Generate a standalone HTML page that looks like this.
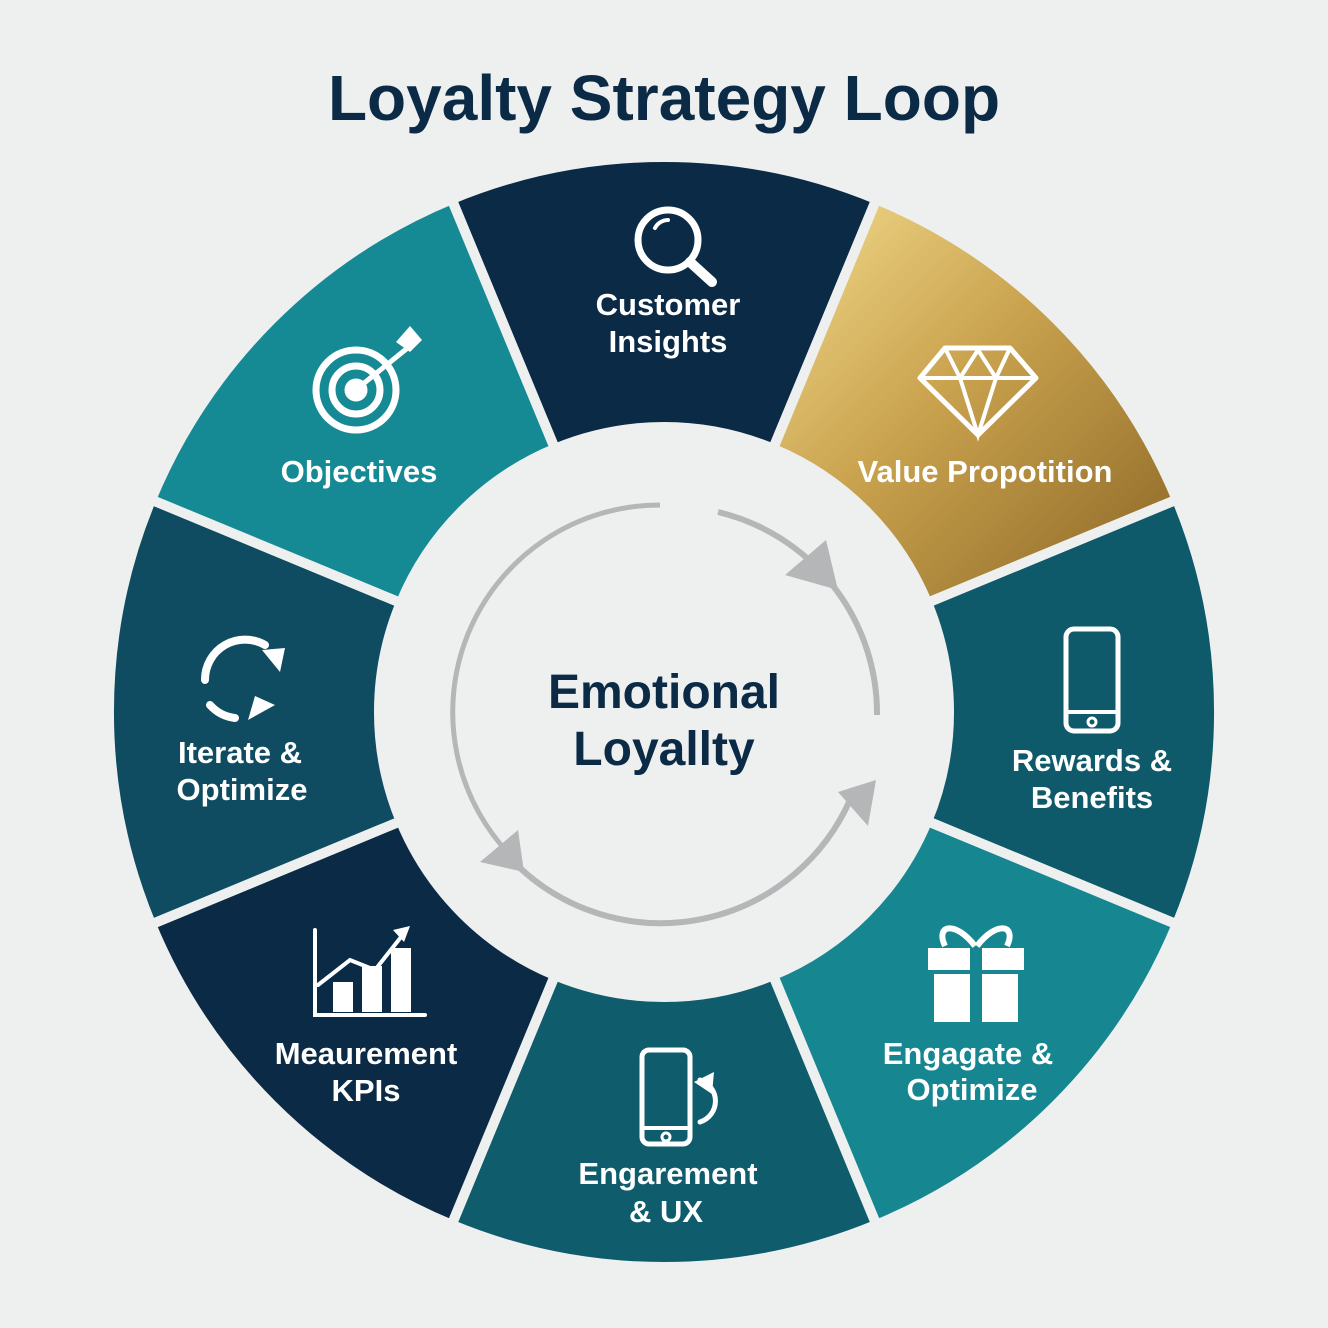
<!DOCTYPE html>
<html><head><meta charset="utf-8"><style>
html,body{margin:0;padding:0;background:#eef0f0;}
svg{display:block}
text{font-family:"Liberation Sans","DejaVu Sans",sans-serif;font-weight:bold}
</style></head><body>
<svg width="1328" height="1328" viewBox="0 0 1328 1328" xmlns="http://www.w3.org/2000/svg">
<defs>
<linearGradient id="gold" x1="0" y1="0" x2="1" y2="1">
<stop offset="0" stop-color="#f3dc8e"/><stop offset="0.45" stop-color="#c9a24e"/><stop offset="1" stop-color="#8a6524"/>
</linearGradient>
</defs>
<rect width="1328" height="1328" fill="#eef0f0"/>
<text x="664" y="120" font-size="64" fill="#0b2a45" text-anchor="middle">Loyalty Strategy Loop</text>
<g stroke="#eef0f0" stroke-width="10" stroke-linejoin="round">
<path d="M451.6,199.2 A555,555 0 0 1 876.4,199.2 L773.1,448.7 A285,285 0 0 0 554.9,448.7 Z" fill="#0b2a45"/>
<path d="M876.4,199.2 A555,555 0 0 1 1176.8,499.6 L927.3,602.9 A285,285 0 0 0 773.1,448.7 Z" fill="url(#gold)"/>
<path d="M1176.8,499.6 A555,555 0 0 1 1176.8,924.4 L927.3,821.1 A285,285 0 0 0 927.3,602.9 Z" fill="#0e5a6a"/>
<path d="M1176.8,924.4 A555,555 0 0 1 876.4,1224.8 L773.1,975.3 A285,285 0 0 0 927.3,821.1 Z" fill="#168690"/>
<path d="M876.4,1224.8 A555,555 0 0 1 451.6,1224.8 L554.9,975.3 A285,285 0 0 0 773.1,975.3 Z" fill="#0f5c6c"/>
<path d="M451.6,1224.8 A555,555 0 0 1 151.2,924.4 L400.7,821.1 A285,285 0 0 0 554.9,975.3 Z" fill="#0b2a45"/>
<path d="M151.2,924.4 A555,555 0 0 1 151.2,499.6 L400.7,602.9 A285,285 0 0 0 400.7,821.1 Z" fill="#0f4c62"/>
<path d="M151.2,499.6 A555,555 0 0 1 451.6,199.2 L554.9,448.7 A285,285 0 0 0 400.7,602.9 Z" fill="#168a94"/>
</g>
<g fill="none" stroke="#b4b6b8" stroke-width="5">
<path d="M660,505 A207,207 0 0 0 515,860"/>
<path d="M520,868 A207,207 0 0 0 850,800" stroke-width="6"/>
<path d="M718,512 A207,207 0 0 1 877,715" stroke-width="6"/>
</g>
<g fill="#b4b6b8">
<polygon points="480,862 524,872 518,830"/>
<polygon points="876,780 838,792 868,826"/>
<polygon points="826,540 785,575 838,590"/>
</g>
<text x="664" y="708" font-size="48" fill="#0b2a45" text-anchor="middle">Emotional</text>
<text x="664" y="765" font-size="48" fill="#0b2a45" text-anchor="middle">Loyallty</text>
<g fill="#fff" font-size="31" text-anchor="middle">
<text x="668" y="315">Customer</text><text x="668" y="352">Insights</text>
<text x="985" y="482">Value Propotition</text>
<text x="1092" y="771">Rewards &amp;</text><text x="1092" y="808">Benefits</text>
<text x="968" y="1064">Engagate &amp;</text><text x="972" y="1100">Optimize</text>
<text x="668" y="1184">Engarement</text><text x="666" y="1222">&amp; UX</text>
<text x="366" y="1064">Meaurement</text><text x="366" y="1101">KPIs</text>
<text x="240" y="763">Iterate &amp;</text><text x="242" y="800">Optimize</text>
<text x="359" y="482">Objectives</text>
</g>
<g fill="none" stroke="#fff" stroke-width="7" stroke-linecap="round">
<circle cx="668" cy="240" r="30"/><line x1="690" y1="262" x2="712" y2="282" stroke-width="10"/>
<path d="M655,228 A15,15 0 0 1 668,220" stroke-width="4"/>
<circle cx="356" cy="390" r="40"/><circle cx="356" cy="390" r="24"/><circle cx="356" cy="390" r="8" fill="#fff"/>
<line x1="358" y1="388" x2="410" y2="346" stroke-width="5"/>
<path d="M920,378 L945,348 L1010,348 L1036,378 L978,435 Z" stroke-width="5" stroke-linejoin="round"/>
<path d="M920,378 L1036,378 M945,348 L960,378 L978,435 L996,378 L1010,348 M960,378 L978,350 L996,378" stroke-width="4"/>
<rect x="1066" y="629" width="52" height="102" rx="8" stroke-width="5"/><line x1="1066" y1="712" x2="1118" y2="712" stroke-width="4"/><circle cx="1092" cy="722" r="4" stroke-width="3"/>
<rect x="642" y="1050" width="48" height="94" rx="7" stroke-width="5"/><line x1="642" y1="1128" x2="690" y2="1128" stroke-width="4"/><circle cx="666" cy="1137" r="4" stroke-width="3"/>
<path d="M700,1080 A22,22 0 0 1 700,1122" stroke-width="5"/>
<path d="M265,645 A40,40 0 0 0 205,680 M210,705 A40,40 0 0 0 235,718" stroke-width="8"/>
<path d="M315,930 L315,1015 L425,1015 M318,985 L350,960 L375,970 L405,932" stroke-width="4"/>
</g>
<g fill="#fff">
<polygon points="396,342 410,326 422,340 410,352"/>
<polygon points="262,650 285,648 280,672"/>
<polygon points="248,720 255,696 275,705"/>
<polygon points="410,926 393,930 404,942"/>
<rect x="333" y="982" width="20" height="30"/><rect x="362" y="966" width="20" height="46"/><rect x="391" y="948" width="20" height="64"/>
<rect x="928" y="948" width="96" height="22"/><rect x="934" y="974" width="84" height="48"/>
<polygon points="714,1072 694,1082 712,1094"/>
</g>
<rect x="970" y="948" width="12" height="74" fill="#168690"/>
<path d="M975,946 C955,920 935,925 945,946 M977,946 C997,920 1017,925 1007,946" fill="none" stroke="#fff" stroke-width="6"/>
</svg>
</body></html>
